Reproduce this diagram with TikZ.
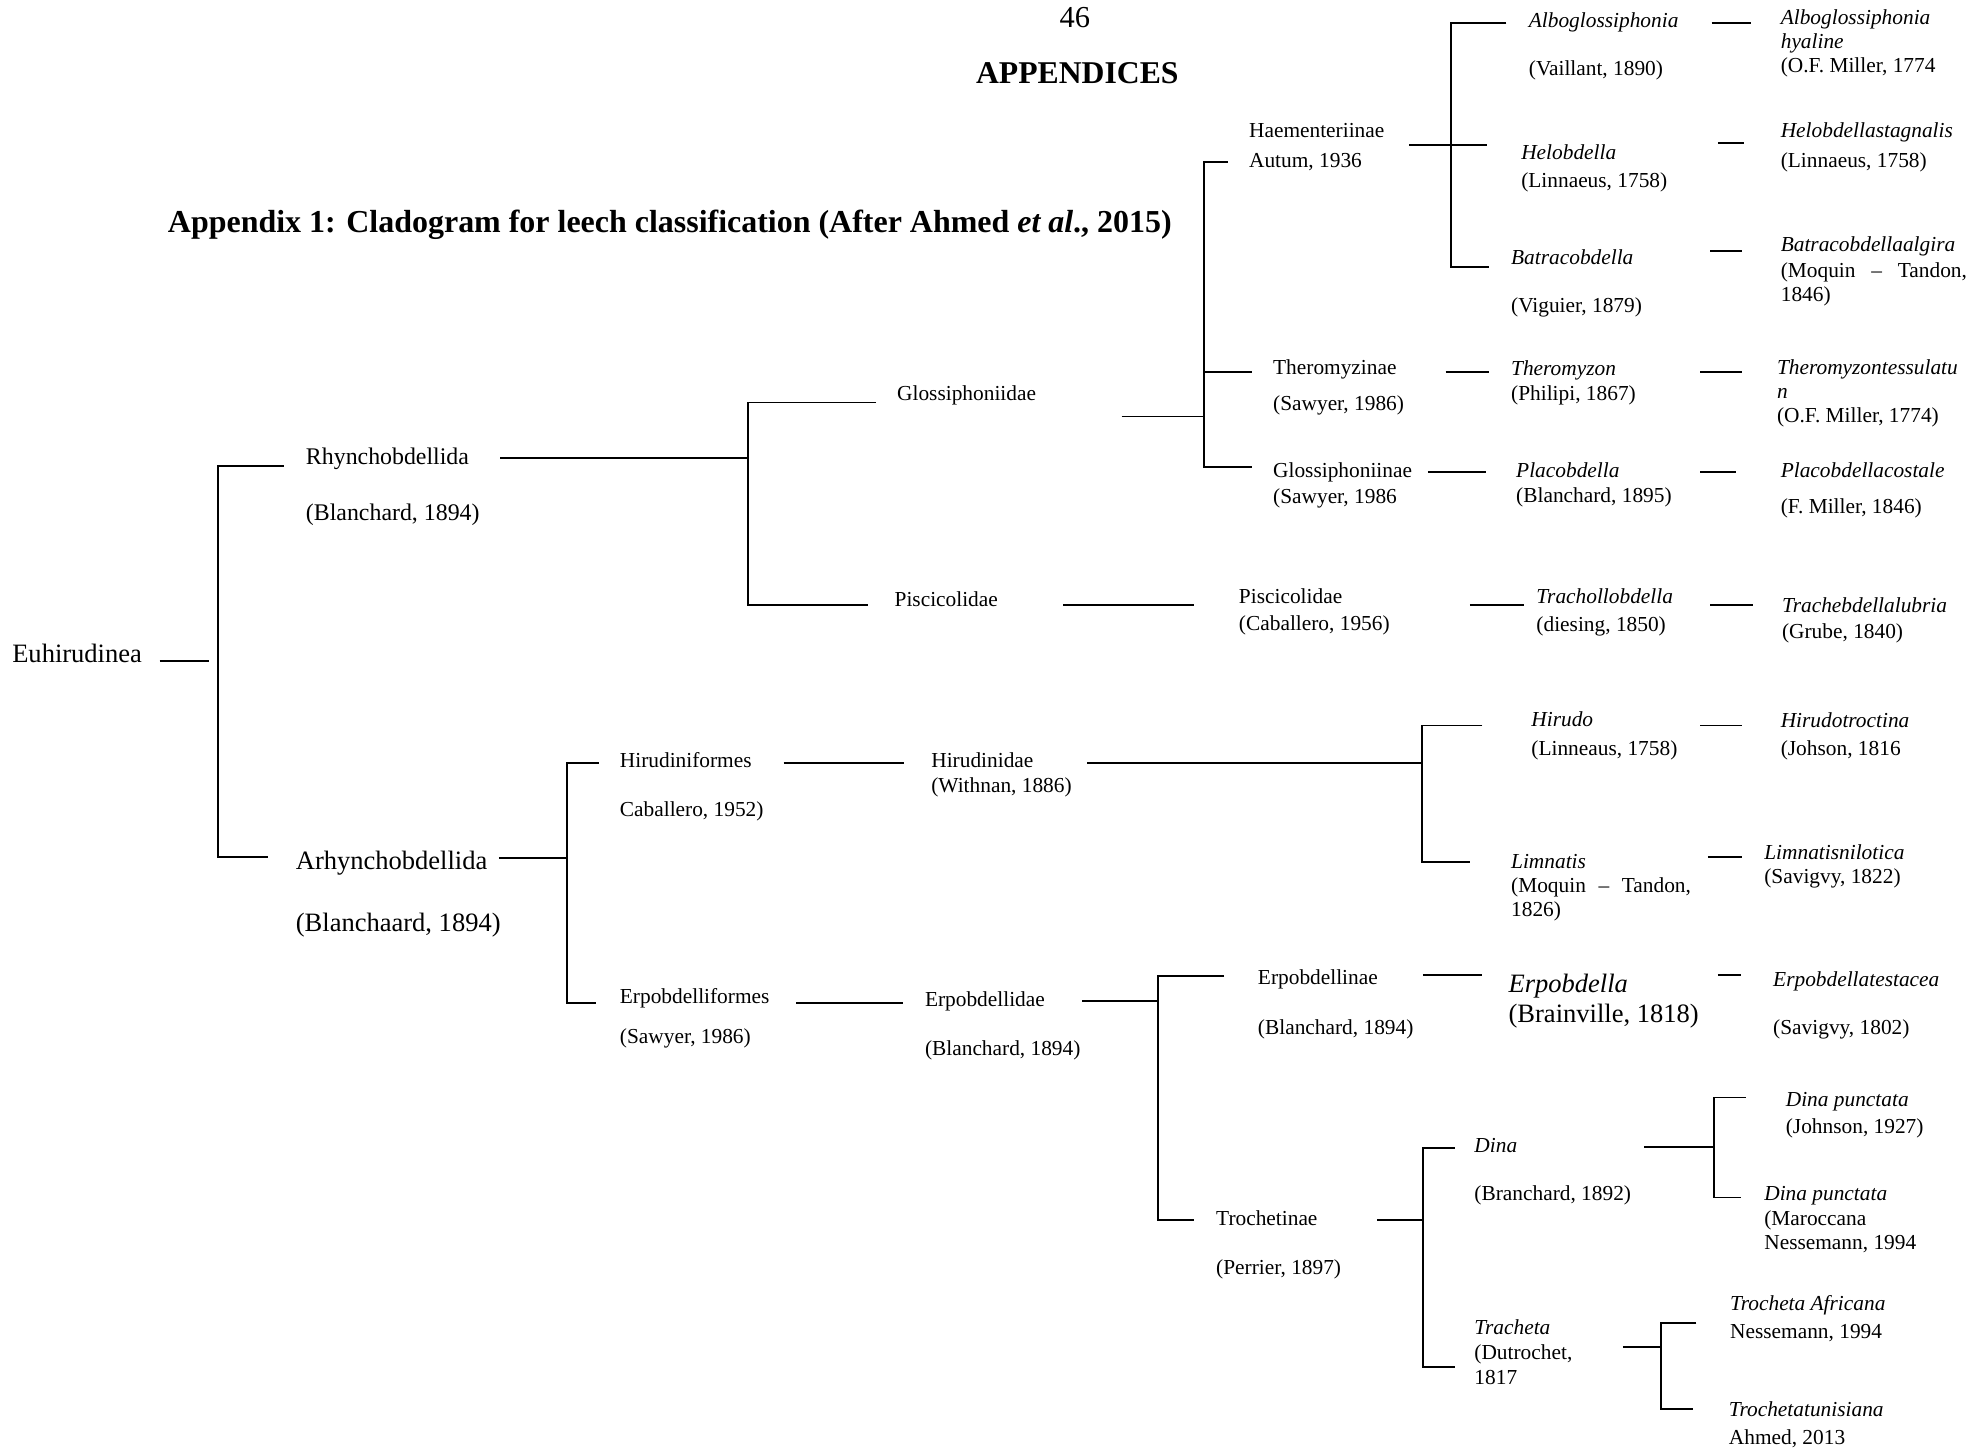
\documentclass[tikz,border=0pt]{standalone}
\usepackage{fontspec}
\setmainfont{Liberation Serif}
\begin{document}
\begin{tikzpicture}[x=0.025cm,y=-0.025cm,line width=1pt,
    lbl/.style={anchor=base west,inner sep=0pt,font=\fontsize{12}{14}\selectfont},
    sp/.style={lbl,font=\fontsize{12}{14}\selectfont\itshape},
    lblm/.style={lbl,font=\fontsize{13.4}{16}\selectfont},
    lblb/.style={lbl,font=\fontsize{14.9}{18}\selectfont},
    spb/.style={lbl,font=\fontsize{14.9}{18}\selectfont\itshape}]
\useasboundingbox (0,0) rectangle (1568,1146);%页面大小

%标题
\node[anchor=base,inner sep=0pt,font=\fontsize{17.1}{20}\selectfont] (page) at (849,22) {46};
\node[anchor=base,inner sep=0pt,font=\fontsize{17.8}{21}\selectfont\bfseries] (appx) at (851,66) {APPENDICES};
\node[lbl,font=\fontsize{17.95}{21}\selectfont\bfseries] (title) at (132,184) {Appendix 1: Cladogram for leech classification (After Ahmed \textit{et al}., 2015)};

%左边几层
\node[lblb] (euh) at (9,523) {Euhirudinea};
\node[lblm] (rhy) at (241,367) {Rhynchobdellida};
\node[lblm] (rhya) at (241,411) {(Blanchard, 1894)};
\node[lblb] (arh) at (233,687) {Arhynchobdellida};
\node[lblb] (arha) at (233,736) {(Blanchaard, 1894)};
\node[lbl] (glo) at (708,316) {Glossiphoniidae};
\node[lbl] (pis) at (706,479) {Piscicolidae};
\node[lbl] (hif) at (489,606) {Hirudiniformes};
\node[lbl] (hifa) at (489,645) {Caballero, 1952)};
\node[lbl] (erf) at (489,793) {Erpobdelliformes};
\node[lbl] (erfa) at (489,824) {(Sawyer, 1986)};
\node[lbl] (hae) at (986,109) {Haementeriinae};
\node[lbl] (haea) at (986,132) {Autum, 1936};
\node[lbl] (thz) at (1005,296) {Theromyzinae};
\node[lbl] (thza) at (1005,324) {(Sawyer, 1986)};
\node[lbl] (gln) at (1005,377) {Glossiphoniinae};
\node[lbl] (glna) at (1005,398) {(Sawyer, 1986};
\node[lbl] (pis2) at (978,477) {Piscicolidae};
\node[lbl] (pis2a) at (978,498) {(Caballero, 1956)};
\node[lbl] (hrd) at (735,606) {Hirudinidae};
\node[lbl] (hrda) at (735,626) {(Withnan, 1886)};
\node[lbl] (erd) at (730,795) {Erpobdellidae};
\node[lbl] (erda) at (730,834) {(Blanchard, 1894)};
\node[lbl] (ern) at (993,778) {Erpobdellinae};
\node[lbl] (erna) at (993,817) {(Blanchard, 1894)};
\node[lbl] (trn) at (960,968) {Trochetinae};
\node[lbl] (trna) at (960,1007) {(Perrier, 1897)};

%属
\node[sp] (alb) at (1207,22) {Alboglossiphonia};
\node[lbl] (alba) at (1207,60) {(Vaillant, 1890)};
\node[sp] (hel) at (1201,126) {Helobdella};
\node[lbl] (hela) at (1201,148) {(Linnaeus, 1758)};
\node[sp] (bat) at (1193,209) {Batracobdella};
\node[lbl] (bata) at (1193,247) {(Viguier, 1879)};
\node[sp] (thm) at (1193,297) {Theromyzon};
\node[lbl] (thma) at (1193,316) {(Philipi, 1867)};
\node[sp] (pla) at (1197,377) {Placobdella};
\node[lbl] (plaa) at (1197,397) {(Blanchard, 1895)};
\node[sp] (trl) at (1213,477) {Trachollobdella};
\node[lbl] (trla) at (1213,499) {(diesing, 1850)};
\node[sp] (hir) at (1209,574) {Hirudo};
\node[lbl] (hira) at (1209,597) {(Linneaus, 1758)};
\node[sp] (lim) at (1193,686) {Limnatis};
\node[lbl] (lima) at (1193,705) {\hbox to 3.55cm{(Moquin\hfil–\hfil Tandon,}};
\node[lbl] (limb) at (1193,724) {1826)};
\node[spb] (erp) at (1191,784) {Erpobdella};
\node[lblb] (erpa) at (1191,808) {(Brainville, 1818)};
\node[sp] (din) at (1164,910) {Dina};
\node[lbl] (dina) at (1164,948) {(Branchard, 1892)};
\node[sp] (tra) at (1164,1054) {Tracheta};
\node[lbl] (traa) at (1164,1074) {(Dutrochet,};
\node[lbl] (trab) at (1164,1094) {1817};

%种
\node[sp] (albs) at (1406,19) {Alboglossiphonia};
\node[sp] (albs2) at (1406,38) {hyaline};
\node[lbl] (albsa) at (1406,57) {(O.F. Miller, 1774};
\node[sp] (hels) at (1406,109) {Helobdellastagnalis};
\node[lbl] (helsa) at (1406,132) {(Linnaeus, 1758)};
\node[sp] (bats) at (1406,199) {Batracobdellaalgira};
\node[lbl] (batsa) at (1406,219) {\hbox to 3.675cm{(Moquin\hfil–\hfil Tandon,}};
\node[lbl] (batsb) at (1406,238) {1846)};
\node[sp] (thms) at (1403,296) {Theromyzontessulatu};
\node[sp] (thms2) at (1403,315) {n};
\node[lbl] (thmsa) at (1403,334) {(O.F. Miller, 1774)};
\node[sp] (plas) at (1406,377) {Placobdellacostale};
\node[lbl] (plasa) at (1406,406) {(F. Miller, 1846)};
\node[sp] (trls) at (1407,484) {Trachebdellalubria};
\node[lbl] (trlsa) at (1407,504) {(Grube, 1840)};
\node[sp] (hirs) at (1406,575) {Hirudotroctina};
\node[lbl] (hirsa) at (1406,597) {(Johson, 1816};
\node[sp] (lims) at (1393,679) {Limnatisnilotica};
\node[lbl] (limsa) at (1393,698) {(Savigvy, 1822)};
\node[sp] (erps) at (1400,779) {Erpobdellatestacea};
\node[lbl] (erpsa) at (1400,817) {(Savigvy, 1802)};
\node[sp] (dps1) at (1410,874) {Dina punctata};
\node[lbl] (dps1a) at (1410,895) {(Johnson, 1927)};
\node[sp] (dps2) at (1393,948) {Dina punctata};
\node[lbl] (dps2a) at (1393,968) {(Maroccana};
\node[lbl] (dps2b) at (1393,987) {Nessemann, 1994};
\node[sp] (tas) at (1366,1035) {Trocheta Africana};
\node[lbl] (tasa) at (1366,1057) {Nessemann, 1994};
\node[sp] (tts) at (1365,1119) {Trochetatunisiana};
\node[lbl] (ttsa) at (1365,1141) {Ahmed, 2013};

%连线的端点
\coordinate (euhE) at (126,522); \coordinate (euhJ) at (165,522);
\coordinate (rootT) at (172,368); \coordinate (rootB) at (172,677);
\coordinate (rhyW) at (224,368); \coordinate (arhW) at (212,677);
\coordinate (rhyE) at (395,362); \coordinate (rhyJ) at (591,362);
\coordinate (b2T) at (591,318); \coordinate (b2B) at (591,478);
\coordinate (gloW) at (692,318); \coordinate (pisW) at (686,478);
\coordinate (gloE) at (886,329); \coordinate (gloJ) at (951,329);
\coordinate (b3T) at (951,128); \coordinate (b3M) at (951,294); \coordinate (b3B) at (951,369);
\coordinate (haeW) at (970,128); \coordinate (thzW) at (989,294); \coordinate (glnW) at (989,369);
\coordinate (haeE) at (1113,114.5); \coordinate (helW) at (1175,114.5);
\coordinate (b4T) at (1146,18); \coordinate (b4B) at (1146,211);
\coordinate (albW) at (1190,18); \coordinate (batW) at (1176,211);
\coordinate (albE) at (1352,18); \coordinate (albsW) at (1383,18);
\coordinate (helE) at (1357,113); \coordinate (helsW) at (1378,113);
\coordinate (batE) at (1351,198); \coordinate (batsW) at (1376,198);
\coordinate (thzE) at (1142,294); \coordinate (thmW) at (1176,294);
\coordinate (thmE) at (1343,294); \coordinate (thmsW) at (1376,294);
\coordinate (glnE) at (1128,373); \coordinate (plaW) at (1174,373);
\coordinate (plaE) at (1343,373); \coordinate (plasW) at (1371,373);
\coordinate (pisE) at (840,478); \coordinate (pis2W) at (943,478);
\coordinate (pis2E) at (1161,478); \coordinate (trlW) at (1204,478);
\coordinate (trlE) at (1351,478); \coordinate (trlsW) at (1385,478);
\coordinate (arhE) at (394,678); \coordinate (arhJ) at (448,678);
\coordinate (b5T) at (448,603); \coordinate (b5B) at (448,792);
\coordinate (hifW) at (473,603); \coordinate (erfW) at (471,792);
\coordinate (hifE) at (619,603); \coordinate (hrdW) at (714,603);
\coordinate (hrdE) at (859,603); \coordinate (hrdJ) at (1123,603);
\coordinate (b6T) at (1123,573); \coordinate (b6B) at (1123,681);
\coordinate (hirW) at (1171,573); \coordinate (limW) at (1161,681);
\coordinate (hirE) at (1343,573); \coordinate (hirsW) at (1376,573);
\coordinate (limE) at (1349,677); \coordinate (limsW) at (1376,677);
\coordinate (erfE) at (629,792); \coordinate (erdW) at (713,792);
\coordinate (erdE) at (855,791); \coordinate (erdJ) at (915,791);
\coordinate (b7T) at (915,771); \coordinate (b7B) at (915,964);
\coordinate (ernW) at (967,771); \coordinate (trnW) at (943,964);
\coordinate (ernE) at (1124,770); \coordinate (erpW) at (1171,770);
\coordinate (erpE) at (1357,770); \coordinate (erpsW) at (1375,770);
\coordinate (trnE) at (1088,964); \coordinate (trnJ) at (1124,964);
\coordinate (b8T) at (1124,907); \coordinate (b8B) at (1124,1080);
\coordinate (dinW) at (1149,907); \coordinate (traW) at (1149,1080);
\coordinate (dinE) at (1299,906); \coordinate (dinJ) at (1354,906);
\coordinate (b9T) at (1354,867); \coordinate (b9B) at (1354,946);
\coordinate (dps1W) at (1379,867); \coordinate (dps2W) at (1375,946);
\coordinate (traE) at (1282,1064); \coordinate (traJ) at (1312,1064);
\coordinate (b10T) at (1312,1045); \coordinate (b10B) at (1312,1113);
\coordinate (tasW) at (1340,1045); \coordinate (ttsW) at (1337,1113);

%分支
\draw (euhE) -- (euhJ);
\draw (rhyW) -- (rootT) -- (rootB) -- (arhW);
\draw (rhyE) -- (rhyJ);
\draw (gloW) -- (b2T) -- (b2B) -- (pisW);
\draw (gloE) -- (gloJ);
\draw (haeW) -- (b3T) -- (b3B) -- (glnW);
\draw (b3M) -- (thzW);
\draw (haeE) -- (helW);
\draw (albW) -- (b4T) -- (b4B) -- (batW);
\draw (albE) -- (albsW);
\draw (helE) -- (helsW);
\draw (batE) -- (batsW);
\draw (thzE) -- (thmW);
\draw (thmE) -- (thmsW);
\draw (glnE) -- (plaW);
\draw (plaE) -- (plasW);
\draw (pisE) -- (pis2W);
\draw (pis2E) -- (trlW);
\draw (trlE) -- (trlsW);
\draw (arhE) -- (arhJ);
\draw (hifW) -- (b5T) -- (b5B) -- (erfW);
\draw (hifE) -- (hrdW);
\draw (hrdE) -- (hrdJ);
\draw (hirW) -- (b6T) -- (b6B) -- (limW);
\draw (hirE) -- (hirsW);
\draw (limE) -- (limsW);
\draw (erfE) -- (erdW);
\draw (erdE) -- (erdJ);
\draw (ernW) -- (b7T) -- (b7B) -- (trnW);
\draw (ernE) -- (erpW);
\draw (erpE) -- (erpsW);
\draw (trnE) -- (trnJ);
\draw (dinW) -- (b8T) -- (b8B) -- (traW);
\draw (dinE) -- (dinJ);
\draw (dps1W) -- (b9T) -- (b9B) -- (dps2W);
\draw (traE) -- (traJ);
\draw (tasW) -- (b10T) -- (b10B) -- (ttsW);
\end{tikzpicture}
\end{document}
